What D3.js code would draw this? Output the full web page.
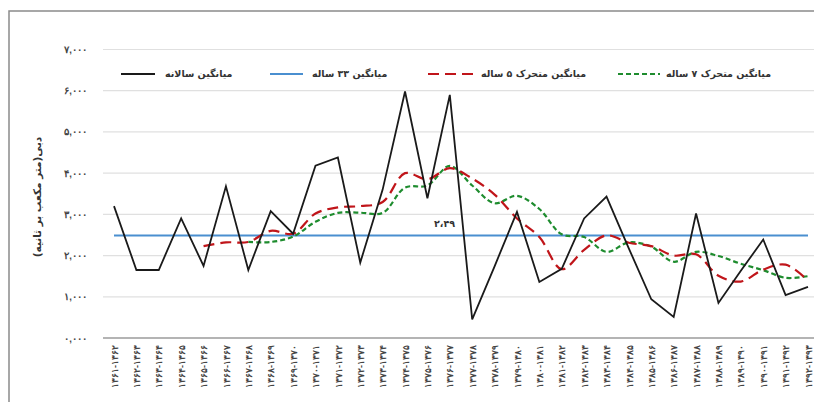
<!DOCTYPE html>
<html>
<head>
<meta charset="utf-8">
<script src="https://cdn.jsdelivr.net/npm/d3@7"></script>
<style>
  body { margin: 0; background: #fff; }
  svg { display: block; font-family: "DejaVu Sans", sans-serif; }
</style>
</head>
<body>
<div id="chart"></div>
<script>
// categories (water years)
var years = ["۱۳۶۱-۱۳۶۲","۱۳۶۲-۱۳۶۳","۱۳۶۳-۱۳۶۴","۱۳۶۴-۱۳۶۵","۱۳۶۵-۱۳۶۶","۱۳۶۶-۱۳۶۷","۱۳۶۷-۱۳۶۸","۱۳۶۸-۱۳۶۹",
  "۱۳۶۹-۱۳۷۰","۱۳۷۰-۱۳۷۱","۱۳۷۱-۱۳۷۲","۱۳۷۲-۱۳۷۳","۱۳۷۳-۱۳۷۴","۱۳۷۴-۱۳۷۵","۱۳۷۵-۱۳۷۶","۱۳۷۶-۱۳۷۷",
  "۱۳۷۷-۱۳۷۸","۱۳۷۸-۱۳۷۹","۱۳۷۹-۱۳۸۰","۱۳۸۰-۱۳۸۱","۱۳۸۱-۱۳۸۲","۱۳۸۲-۱۳۸۳","۱۳۸۳-۱۳۸۴","۱۳۸۴-۱۳۸۵",
  "۱۳۸۵-۱۳۸۶","۱۳۸۶-۱۳۸۷","۱۳۸۷-۱۳۸۸","۱۳۸۸-۱۳۸۹","۱۳۸۹-۱۳۹۰","۱۳۹۰-۱۳۹۱","۱۳۹۱-۱۳۹۲","۱۳۹۲-۱۳۹۳"];

// annual mean discharge
var annual = [3200, 1650, 1650, 2900, 1750, 3680, 1650, 3080, 2530, 4180, 4380, 1830, 3600, 5980, 3390, 5900,
  450, 1740, 3060, 1360, 1680, 2900, 3430, 2170, 940, 510, 3020, 850, 1630, 2390, 1040, 1240];

// long-term (33 year) mean
var longMean = 2490;

// 5 year moving average (starts at 5th year)
var ma5 = [null, null, null, null, 2230, 2320, 2330, 2600, 2530, 3020, 3170, 3200, 3300, 4000, 3850, 4120,
  3870, 3480, 2900, 2450, 1670, 2140, 2490, 2310, 2230, 2000, 2030, 1510, 1370, 1660, 1780, 1390];

// 7 year moving average (starts at 7th year)
var ma7 = [null, null, null, null, null, null, 2330, 2330, 2460, 2820, 3035, 3040, 3035, 3650, 3700, 4175,
  3700, 3270, 3450, 3130, 2515, 2450, 2090, 2320, 2215, 1850, 2090, 1990, 1800, 1645, 1460, 1500];

var yTicks = [0, 1000, 2000, 3000, 4000, 5000, 6000, 7000];

var legendNames = ["میانگین سالانه", "میانگین ۳۳ ساله", "میانگین متحرک ۵ ساله", "میانگین متحرک ۷ ساله"];

var W = 814, H = 402;

var svg = d3.select("#chart").append("svg")
    .attr("width", W)
    .attr("height", H);

// outer frame of the chart area
svg.append("rect")
    .attr("x", 9).attr("y", 11)
    .attr("width", W).attr("height", H)
    .attr("fill", "none")
    .attr("stroke", "#8a8a8a")
    .attr("stroke-width", 1.5);

var x = d3.scalePoint()
    .domain(years)
    .range([114, 808]);

var y = d3.scaleLinear()
    .domain([0, 7000])
    .range([338, 49.5]);

function persianNum(n) {
    var s = n === 0 ? "0,000" : d3.format(",")(n);
    return s.replace(/[0-9]/g, function(c) { return "۰۱۲۳۴۵۶۷۸۹"[+c]; });
}

// horizontal gridlines
svg.append("g")
  .selectAll("line")
  .data(yTicks)
  .enter()
  .append("line")
    .attr("x1", 103).attr("x2", W)
    .attr("y1", function(d) { return y(d); })
    .attr("y2", function(d) { return y(d); })
    .attr("stroke", function(d) { return d === 0 ? "#b4b4b4" : "#e0e0e0"; })
    .attr("stroke-width", function(d) { return d === 0 ? 2 : 1.2; });

// y tick labels
var yAxis = d3.axisLeft(y).tickValues(yTicks).tickSize(0).tickPadding(0).tickFormat(persianNum);
var gy = svg.append("g")
    .attr("transform", "translate(87,0)")
    .call(yAxis);
gy.select(".domain").remove();
gy.selectAll("text")
    .attr("font-size", 9.5)
    .attr("font-weight", "bold")
    .attr("fill", "#444");

// y axis title
svg.append("text")
    .attr("transform", "translate(41,197) rotate(-90)")
    .attr("text-anchor", "middle")
    .attr("font-size", 10.5)
    .attr("font-weight", "bold")
    .attr("fill", "#333")
    .text("دبی(متر مکعب بر ثانیه)");

// x tick labels (rotated)
var xAxis = d3.axisBottom(x).tickSize(0).tickPadding(0);
var gx = svg.append("g")
    .attr("transform", "translate(0,345)")
    .call(xAxis);
gx.select(".domain").remove();
gx.selectAll("text")
    .attr("transform", "rotate(-90)")
    .attr("x", 0).attr("y", 0).attr("dy", "0.35em")
    .attr("direction", "rtl")
    .attr("text-anchor", "start")
    .attr("font-size", 9)
    .attr("font-weight", "bold")
    .attr("fill", "#444");

// long-term mean line
svg.append("line")
    .attr("x1", x(years[0])).attr("x2", x(years[years.length - 1]))
    .attr("y1", y(longMean)).attr("y2", y(longMean))
    .attr("stroke", "#4a8fd0")
    .attr("stroke-width", 2);

svg.append("text")
    .attr("x", 455).attr("y", 227)
    .attr("text-anchor", "end")
    .attr("font-size", 9.5)
    .attr("font-weight", "bold")
    .attr("fill", "#333")
    .text("۲،۴۹");

// series lines
var straight = d3.line()
    .defined(function(d) { return d != null; })
    .x(function(d, i) { return x(years[i]); })
    .y(function(d) { return y(d); });

var smooth = d3.line()
    .defined(function(d) { return d != null; })
    .x(function(d, i) { return x(years[i]); })
    .y(function(d) { return y(d); })
    .curve(d3.curveCatmullRom.alpha(0.5));

svg.append("path")
    .datum(ma7)
    .attr("d", smooth)
    .attr("fill", "none")
    .attr("stroke", "#1e8c2e")
    .attr("stroke-width", 2.2)
    .attr("stroke-dasharray", "5,3");

svg.append("path")
    .datum(ma5)
    .attr("d", smooth)
    .attr("fill", "none")
    .attr("stroke", "#c0151a")
    .attr("stroke-width", 2.2)
    .attr("stroke-dasharray", "11,6");

svg.append("path")
    .datum(annual)
    .attr("d", straight)
    .attr("fill", "none")
    .attr("stroke", "#1a1a1a")
    .attr("stroke-width", 1.8)
    .attr("stroke-linejoin", "miter");

// legend
var legend = [
    { name: legendNames[0], color: "#1a1a1a", dash: null, x1: 121, x2: 155, tx: 165 },
    { name: legendNames[1], color: "#4a8fd0", dash: null, x1: 270, x2: 303, tx: 312 },
    { name: legendNames[2], color: "#c0151a", dash: "11,6", x1: 428, x2: 477, tx: 481 },
    { name: legendNames[3], color: "#1e8c2e", dash: "5,3", x1: 618, x2: 660, tx: 666 }
];

var lg = svg.append("g").selectAll("g")
    .data(legend)
    .enter()
    .append("g");

lg.append("line")
    .attr("x1", function(d) { return d.x1; })
    .attr("x2", function(d) { return d.x2; })
    .attr("y1", 74).attr("y2", 74)
    .attr("stroke", function(d) { return d.color; })
    .attr("stroke-width", 2.2)
    .attr("stroke-dasharray", function(d) { return d.dash; });

lg.append("text")
    .attr("x", function(d) { return d.tx; })
    .attr("y", 77)
    .attr("direction", "rtl")
    .attr("text-anchor", "end")
    .attr("font-size", 9.5)
    .attr("font-weight", "bold")
    .attr("fill", "#333")
    .text(function(d) { return d.name; });
</script>
</body>
</html>
